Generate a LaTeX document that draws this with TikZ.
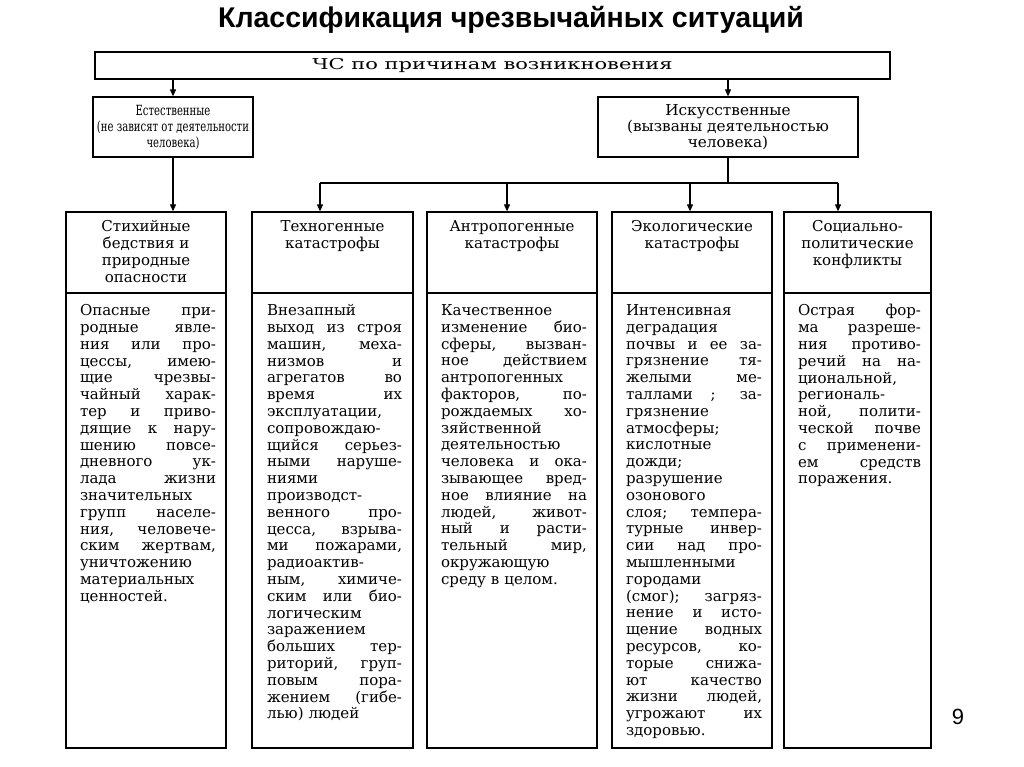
\documentclass[tikz,border=0pt]{standalone}
\usepackage{fontspec}
\setmainfont{DejaVu Serif}
\newfontfamily\sansfont{Liberation Sans}
\newfontfamily\narrowfont{DejaVu Serif}[FakeStretch=0.72]
\newfontfamily\widefont{DejaVu Serif}[FakeStretch=1.4]
\newfontfamily\midfont{DejaVu Serif}[FakeStretch=1.02]
\usetikzlibrary{arrows.meta}
\newcommand\jl[1]{\hbox to \hsize{\spaceskip=0.3em plus 1fill\relax #1}\par}

\tikzset{
  frame/.style={draw, line width=1.3pt, inner sep=0pt},
  hdtext/.style={anchor=north, align=center, inner sep=0pt, font=\fontsize{15}{17}\selectfont},
  bdtext/.style={anchor=north, align=left, inner sep=0pt, font=\fontsize{15}{16.8}\selectfont},
  toptext/.style={align=center, font=\narrowfont\fontsize{14}{16}\selectfont},
  arr/.style={-{Triangle[length=7pt,width=6pt]}, line width=1.1pt}
}

\begin{document}
\begin{tikzpicture}[x=1pt, y=-1pt]
\useasboundingbox (0,0) rectangle (1024,767);
\node (title) [font=\sansfont\bfseries\fontsize{28.5}{30}\selectfont] at (511,20) {Классификация чрезвычайных ситуаций};
\node (prich) [frame, minimum width=795pt, minimum height=27pt, font=\widefont\fontsize{15}{17}\selectfont] at (492.5,65.5) {ЧС по причинам возникновения};
\node (est) [frame, toptext, minimum width=160pt, minimum height=60pt] at (173,127) {Естественные\\(не зависят от деятельности\\человека)};
\node (isk) [frame, minimum width=260pt, minimum height=60pt, align=center, font=\midfont\fontsize{15}{16}\selectfont] at (728,127) {Искусственные\\(вызваны деятельностью\\человека)};

% columns: header and body frames
\foreach \n/\xa/\xb in {1/66/226, 2/252/413, 3/427/597, 4/612/772, 5/784/931} {
  \node (h\n) [frame, minimum width={\xb pt-\xa pt}, minimum height=81pt] at ({(\xa+\xb)/2},252.5) {};
  \node (b\n) [frame, minimum width={\xb pt-\xa pt}, minimum height=455pt] at ({(\xa+\xb)/2},520.5) {};
}

\node (s1) [hdtext] at ([yshift=-9pt]h1.north) {Стихийные\\бедствия и\\природные\\опасности};
\node (s2) [hdtext] at ([yshift=-9pt]h2.north) {Техногенные\\катастрофы};
\node (s3) [hdtext] at ([yshift=-9pt]h3.north) {Антропогенные\\катастрофы};
\node (s4) [hdtext] at ([yshift=-9pt]h4.north) {Экологические\\катастрофы};
\node (s5) [hdtext] at ([yshift=-9pt]h5.north) {Социально-\\политические\\конфликты};

\node (t1) [bdtext, text width=136pt] at ([xshift=2pt,yshift=-12pt]b1.north) {%
\jl{Опасные при-}
\jl{родные явле-}
\jl{ния или про-}
\jl{цессы, имею-}
\jl{щие чрезвы-}
\jl{чайный харак-}
\jl{тер и приво-}
\jl{дящие к нару-}
\jl{шению повсе-}
\jl{дневного ук-}
\jl{лада жизни}
значительных\\
\jl{групп населе-}
\jl{ния, человече-}
\jl{ским жертвам,}
уничтожению\\
материальных\\
ценностей.};

\node (t2) [bdtext, text width=135pt] at ([xshift=2pt,yshift=-12pt]b2.north) {%
Внезапный\\
\jl{выход из строя}
\jl{машин, меха-}
\jl{низмов и}
\jl{агрегатов во}
\jl{время их}
эксплуатации,\\
сопровождаю-\\
\jl{щийся серьез-}
\jl{ными наруше-}
ниями\\
производст-\\
\jl{венного про-}
\jl{цесса, взрыва-}
\jl{ми пожарами,}
радиоактив-\\
\jl{ным, химиче-}
\jl{ским или био-}
логическим\\
заражением\\
\jl{больших тер-}
\jl{риторий, груп-}
\jl{повым пора-}
\jl{жением (гибе-}
лью) людей};

\node (t3) [bdtext, text width=146pt] at ([xshift=2pt,yshift=-12pt]b3.north) {%
Качественное\\
\jl{изменение био-}
\jl{сферы, вызван-}
\jl{ное действием}
антропогенных\\
\jl{факторов, по-}
\jl{рождаемых хо-}
зяйственной\\
деятельностью\\
\jl{человека и ока-}
\jl{зывающее вред-}
\jl{ное влияние на}
\jl{людей, живот-}
\jl{ный и расти-}
\jl{тельный мир,}
окружающую\\
среду в целом.};

\node (t4) [bdtext, text width=136pt] at ([xshift=2pt,yshift=-12pt]b4.north) {%
Интенсивная\\
деградация\\
\jl{почвы и ее за-}
\jl{грязнение тя-}
\jl{желыми ме-}
\jl{таллами ; за-}
грязнение\\
атмосферы;\\
кислотные\\
дожди;\\
разрушение\\
озонового\\
\jl{слоя; темпера-}
\jl{турные инвер-}
\jl{сии над про-}
мышленными\\
городами\\
\jl{(смог); загряз-}
\jl{нение и исто-}
\jl{щение водных}
\jl{ресурсов, ко-}
\jl{торые снижа-}
\jl{ют качество}
\jl{жизни людей,}
\jl{угрожают их}
здоровью.};

\node (t5) [bdtext, text width=123pt] at ([xshift=2pt,yshift=-12pt]b5.north) {%
\jl{Острая фор-}
\jl{ма разреше-}
\jl{ния противо-}
\jl{речий на на-}
циональной,\\
региональ-\\
\jl{ной, полити-}
\jl{ческой почве}
\jl{с применени-}
\jl{ем средств}
поражения.};

% connectors
\draw[arr] (est |- prich.south) -- (est.north);
\draw[arr] (isk |- prich.south) -- (isk.north);
\draw[arr] (est.south) -- (est |- h1.north);
\foreach \n/\xx in {2/320, 3/507, 4/690, 5/838}
  \coordinate (j\n) at (\xx,183);
\draw[line width=1.1pt] (isk.south) -- (isk.south |- j2);
\draw[line width=1.1pt] (j2) -- (j5);
\foreach \n in {2,...,5}
  \draw[arr] (j\n) -- (j\n |- h\n.north);

\node (page) [font=\sansfont\fontsize{22}{24}\selectfont] at (958,717) {9};
\end{tikzpicture}
\end{document}
